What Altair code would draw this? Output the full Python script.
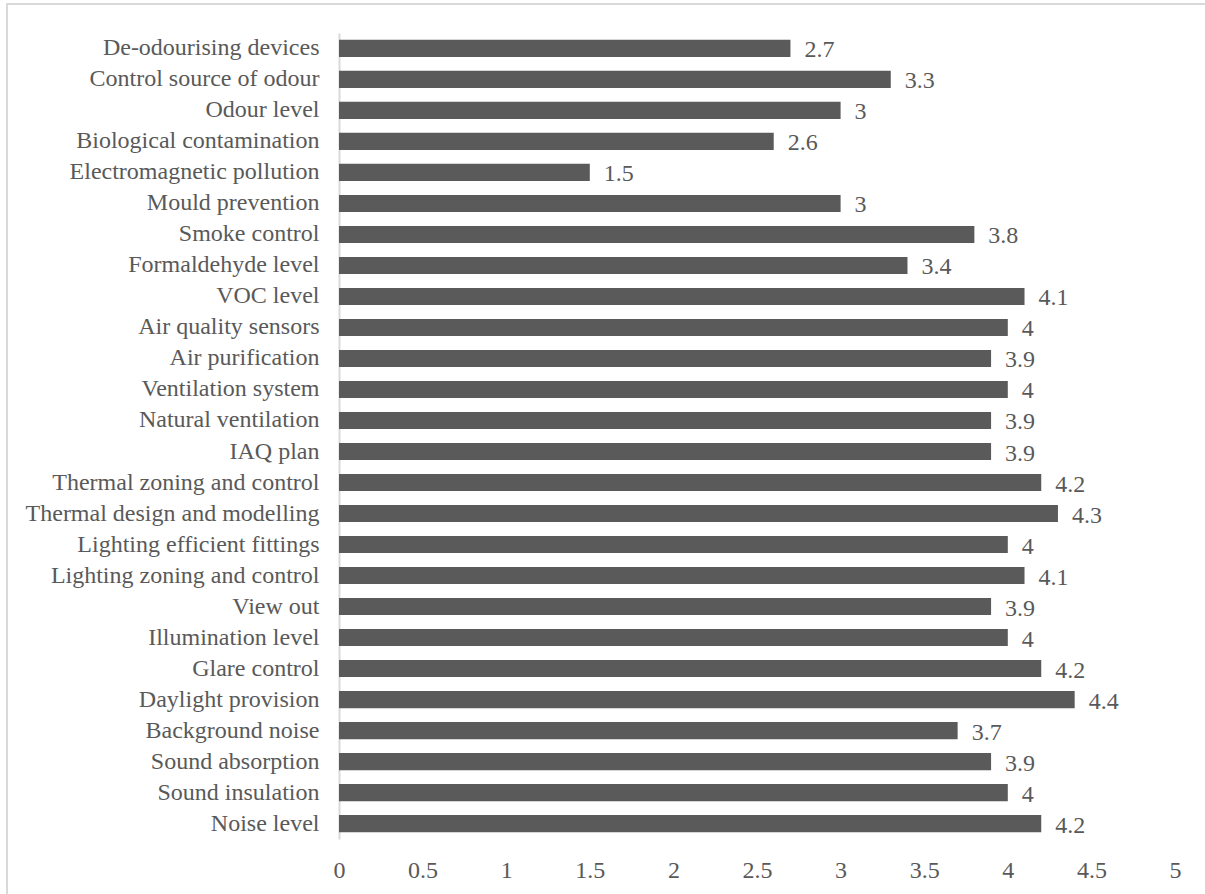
import altair as alt
import pandas as pd

# Indoor environmental quality criteria and their mean importance scores
criteria = [
    "De-odourising devices",
    "Control source of odour",
    "Odour level",
    "Biological contamination",
    "Electromagnetic pollution",
    "Mould prevention",
    "Smoke control",
    "Formaldehyde level",
    "VOC level",
    "Air quality sensors",
    "Air purification",
    "Ventilation system",
    "Natural ventilation",
    "IAQ plan",
    "Thermal zoning and control",
    "Thermal design and modelling",
    "Lighting efficient fittings",
    "Lighting zoning and control",
    "View out",
    "Illumination level",
    "Glare control",
    "Daylight provision",
    "Background noise",
    "Sound absorption",
    "Sound insulation",
    "Noise level",
]
scores = [
    2.7, 3.3, 3, 2.6, 1.5, 3, 3.8, 3.4, 4.1, 4, 3.9, 4, 3.9,
    3.9, 4.2, 4.3, 4, 4.1, 3.9, 4, 4.2, 4.4, 3.7, 3.9, 4, 4.2,
]
x_ticks = [0, 0.5, 1, 1.5, 2, 2.5, 3, 3.5, 4, 4.5, 5]

df = pd.DataFrame({"criterion": criteria, "score": scores})

FONT = "Liberation Serif"
FONT_SIZE = 24
TEXT_COLOR = "#595959"
BAR_COLOR = "#5a5a5a"
PLOT_W, PLOT_H = 836, 806

y_enc = alt.Y(
    "criterion:N",
    sort=criteria,
    title=None,
    scale=alt.Scale(paddingInner=0.45, paddingOuter=0.22),
    axis=alt.Axis(
        domain=True,
        domainColor="#d9d9d9",
        domainWidth=2,
        ticks=False,
        labelFont=FONT,
        labelFontSize=FONT_SIZE,
        labelColor=TEXT_COLOR,
        labelPadding=20,
        labelLimit=400,
    ),
)
x_enc = alt.X(
    "score:Q",
    title=None,
    scale=alt.Scale(domain=[0, 5], nice=False),
    axis=alt.Axis(
        values=x_ticks,
        format="~g",
        domain=False,
        ticks=False,
        grid=False,
        labelFont=FONT,
        labelFontSize=FONT_SIZE,
        labelColor=TEXT_COLOR,
        labelPadding=19,
        labelFlush=False,
    ),
)

bars = alt.Chart(df).mark_bar(color=BAR_COLOR).encode(x=x_enc, y=y_enc)

labels = alt.Chart(df).mark_text(
    align="left",
    baseline="middle",
    dx=14,
    dy=2,
    font=FONT,
    fontSize=FONT_SIZE,
    color=TEXT_COLOR,
).encode(x="score:Q", y=alt.Y("criterion:N", sort=criteria), text="score:Q")

# light frame around the whole chart area
frame = alt.Chart(df.head(1)).mark_rect(
    fill=None, stroke="#d9d9d9", strokeWidth=2
).encode(
    x=alt.value(-332),
    x2=alt.value(PLOT_W + 60),
    y=alt.value(-29),
    y2=alt.value(PLOT_H + 100),
)

chart = (
    alt.layer(frame, bars, labels)
    .properties(
        width=PLOT_W,
        height=PLOT_H,
        padding={"left": 339, "top": 33, "right": 30, "bottom": 55},
        autosize=alt.AutoSizeParams(type="none"),
        background="white",
    )
    .configure_view(stroke=None)
)

chart.save("out.html", embed_options={"renderer": "svg", "actions": False})
